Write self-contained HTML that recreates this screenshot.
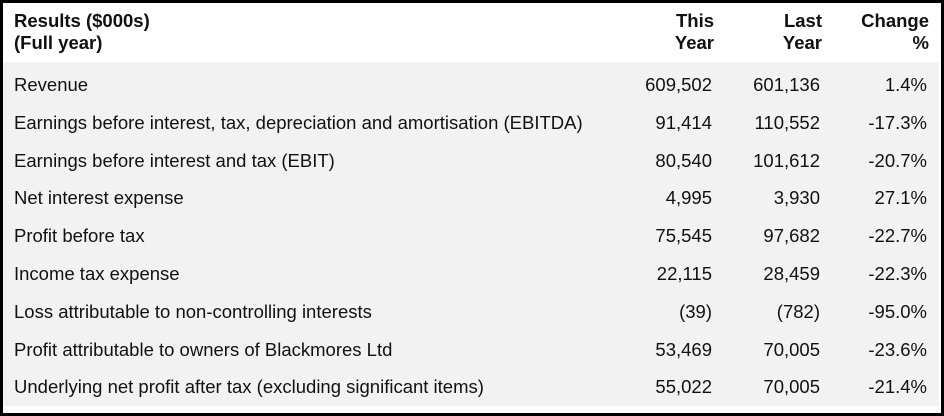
<!DOCTYPE html>
<html><head><meta charset="utf-8"><style>
body{margin:0;width:944px;height:416px;background:#fff;font-family:"Liberation Sans",Arial,sans-serif;color:#111;overflow:hidden}
#frame{position:absolute;left:0;top:0;width:938px;height:410px;border:3px solid #000;background:#fff}
.hdr{position:absolute;font-weight:bold;font-size:18.5px;line-height:22px}
#body{position:absolute;left:0;top:59px;width:936px;height:344px;background:#f2f2f2}
.row{position:absolute;left:0;width:936px;height:38px;font-size:18.5px}
.row span{position:absolute;top:8px;white-space:nowrap}
.l{left:11px}
.r1{right:227px}.r2{right:119px}.r3{right:12px}
</style></head><body>
<div id="frame">
<div class="hdr" style="left:11px;top:7px">Results ($000s)<br>(Full year)</div>
<div class="hdr" style="right:227px;top:7px;text-align:right">This<br>Year</div>
<div class="hdr" style="right:119px;top:7px;text-align:right">Last<br>Year</div>
<div class="hdr" style="right:12px;top:7px;text-align:right">Change<br>%</div>
<div id="body"></div>
</div>
<script>
const labels=["Revenue","Earnings before interest, tax, depreciation and amortisation (EBITDA)","Earnings before interest and tax (EBIT)","Net interest expense","Profit before tax","Income tax expense","Loss attributable to non-controlling interests","Profit attributable to owners of Blackmores Ltd","Underlying net profit after tax (excluding significant items)"];
const thisYear=["609,502","91,414","80,540","4,995","75,545","22,115","(39)","53,469","55,022"];
const lastYear=["601,136","110,552","101,612","3,930","97,682","28,459","(782)","70,005","70,005"];
const change=["1.4%","-17.3%","-20.7%","27.1%","-22.7%","-22.3%","-95.0%","-23.6%","-21.4%"];
const body=document.getElementById('body');
labels.forEach((lab,i)=>{
  const row=document.createElement('div');
  row.className='row';
  row.style.top=(i*37.8+4)+'px';
  
  
  const cells=[[lab,'l'],[thisYear[i],'r1'],[lastYear[i],'r2'],[change[i],'r3']];
  cells.forEach(([t,c],j)=>{
    const s=document.createElement('span');
    s.className=c;s.textContent=t;
    
    
    row.appendChild(s);
  });
  body.appendChild(row);
});
</script>
</body></html>
